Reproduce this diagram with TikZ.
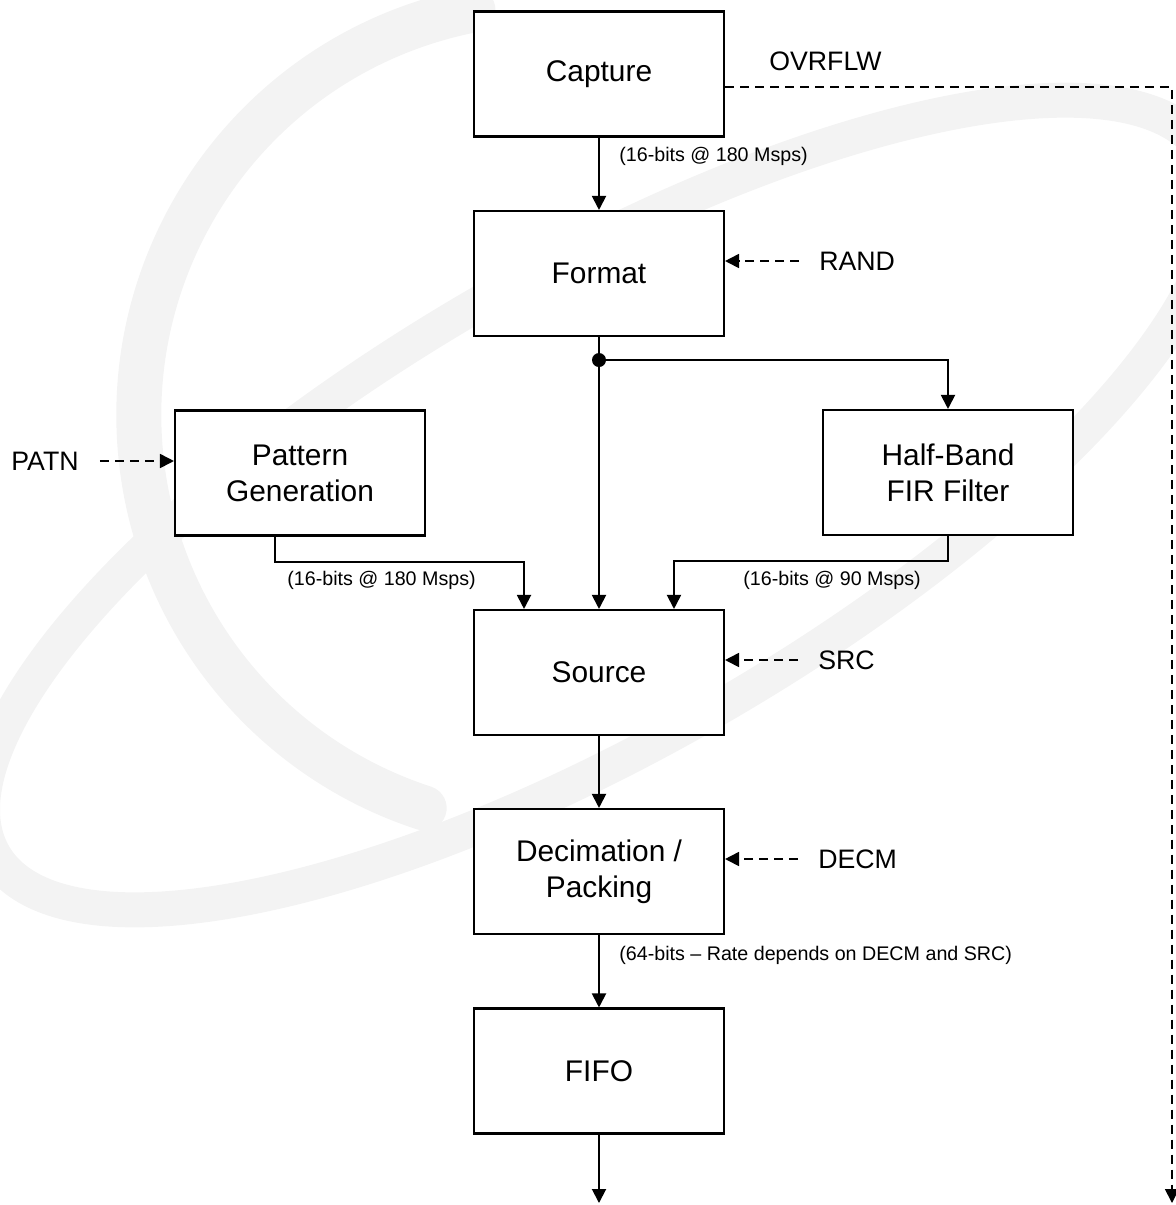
\documentclass[tikz,border=0pt]{standalone}
\usepackage{fontspec}
\setmainfont{Liberation Sans}
\usepackage{tikz}
\usetikzlibrary{arrows.meta,positioning}
\definecolor{wm}{RGB}{243,243,243}

\begin{document}
\begin{tikzpicture}[x=0.02cm, y=-0.02cm]
			\tikzstyle{Block}	= [rectangle, draw, line width=1.2pt, fill=white, minimum width=5cm, minimum height=2.5cm, align=center, font=\fontsize{17}{20.5}\selectfont]
			\tikzstyle{Signal}	= [inner sep=0pt, font=\fontsize{15.2}{18}\selectfont]
			\tikzstyle{Rate}	= [inner sep=0pt, anchor=west, font=\fontsize{11.2}{13}\selectfont]
			\tikzstyle{Dot}		= [circle, fill=black, minimum size=0.28cm, inner sep=0pt]
			\tikzstyle{Wire}	= [line width=1.1pt]
			\tikzstyle{Flow}	= [Wire, -{Triangle[length=0.28cm, width=0.28cm]}]
			\tikzstyle{Ctrl}	= [line width=1pt, -{Triangle[length=0.28cm, width=0.28cm]}, dash pattern=on 0.18cm off 0.12cm]
			\tikzstyle{Mark}	= [draw=wm, line width=0.7cm]

			\useasboundingbox (0,0) rectangle (1176,1205);
			\begin{scope}
				\clip (0,0) rectangle (1176,1205);
				\draw [Mark, rotate around={30:(600,505)}] (600,505) ellipse [x radius=14cm, y radius=4.7cm];
				\draw [Mark, line width=0.9cm, line cap=round] (473,10) arc [start angle=101, end angle=252, radius=8.26cm];
			\end{scope}

			\node (capture) at (599,74) [Block] {Capture};
			\node (format) at (599,273.5) [Block] {Format};
			\node (split) at (599,360) [Dot] {};
			\node (pattern) at (300,473) [Block] {Pattern\\Generation};
			\node (halfband) at (948,472.5) [Block] {Half-Band\\FIR Filter};
			\node (source) at (599,672.5) [Block] {Source};
			\node (decim) at (599,871.5) [Block] {Decimation /\\Packing};
			\node (fifo) at (599,1071) [Block] {FIFO};

			\node (ovrflw) at (769,61.5) [Signal, anchor=west] {OVRFLW};
			\node (rand) at (819,261) [Signal, anchor=west] {RAND};
			\node (src) at (818,660) [Signal, anchor=west] {SRC};
			\node (decm) at (818,859) [Signal, anchor=west] {DECM};
			\node (patn) at (79,461) [Signal, anchor=east] {PATN};

			\node (rcap) at (619,156) [Rate] {(16-bits @ 180 Msps)};
			\node (rpat) at (287,580) [Rate] {(16-bits @ 180 Msps)};
			\node (rhb) at (743,580) [Rate] {(16-bits @ 90 Msps)};
			\node (rdec) at (619,955.5) [Rate] {(64-bits – Rate depends on DECM and SRC)};

			\coordinate (fifoout) at (599,1203);
			\coordinate (ovrend) at (1172,1203);

			\draw [Flow] (capture) to (format);
			\draw [Wire] (format) to (split);
			\draw [Flow] (split) to (source);
			\draw [Flow] (split) -| (halfband);
			\draw [Flow] ([xshift=-0.5cm]pattern.south) -- ++(0,25) -| ([xshift=-1.5cm]source.north);
			\draw [Flow] (halfband.south) -- ++(0,25) -| ([xshift=1.5cm]source.north);
			\draw [Flow] (source) to (decim);
			\draw [Flow] (decim) to (fifo);
			\draw [Flow] (fifo) to (fifoout);

			\draw [Ctrl] ([xshift=-0.4cm]rand.west) -- (rand -| format.east);
			\draw [Ctrl] ([xshift=-0.4cm]src.west) -- (src -| source.east);
			\draw [Ctrl] ([xshift=-0.4cm]decm.west) -- (decm -| decim.east);
			\draw [Ctrl] ([xshift=0.42cm]patn.east) -- (patn -| pattern.west);
			\draw [Ctrl] ([yshift=-0.26cm]capture.east) -| (ovrend);
		\end{tikzpicture}
\end{document}
